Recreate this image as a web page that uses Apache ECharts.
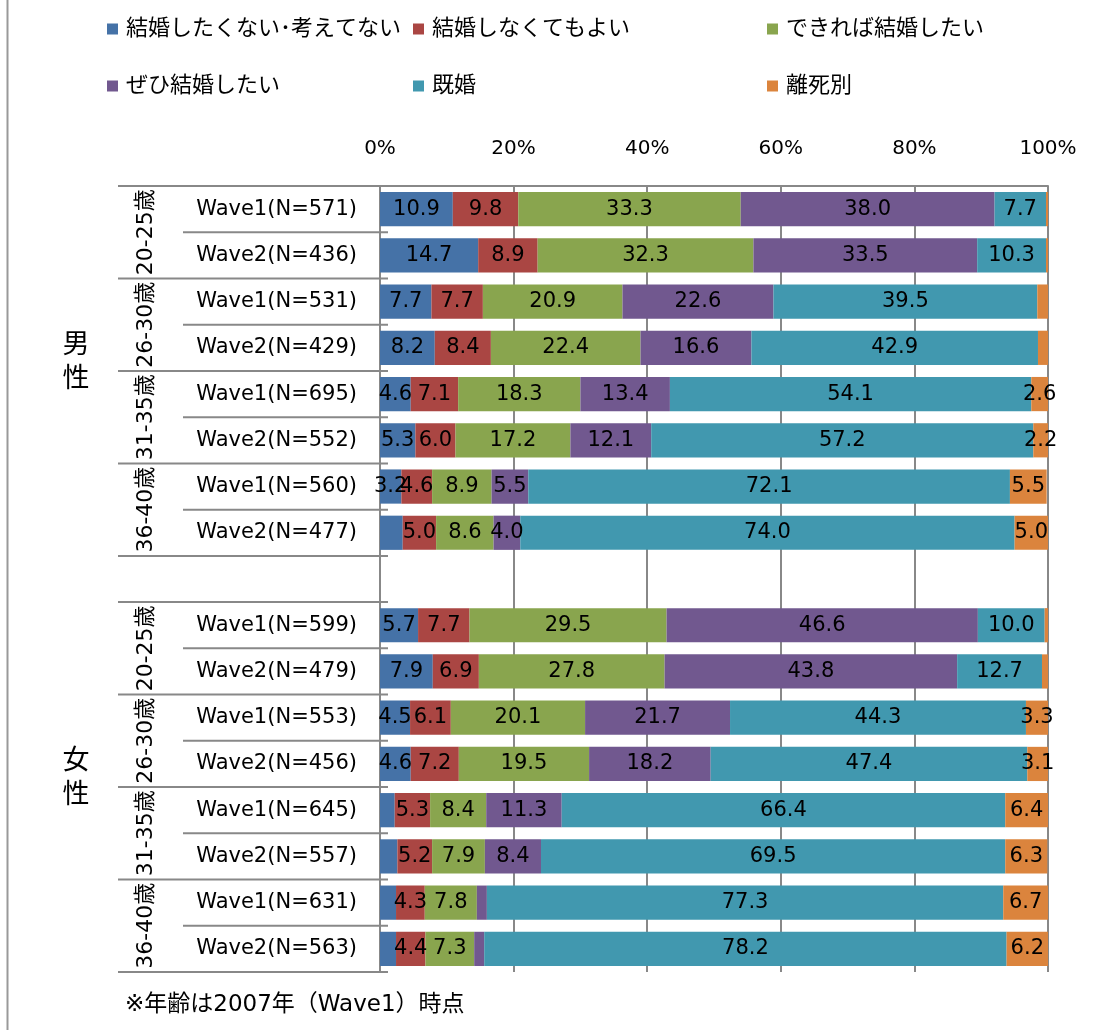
<!DOCTYPE html>
<html>
<head>
<meta charset="utf-8">
<script src="https://cdn.jsdelivr.net/npm/echarts@6/dist/echarts.min.js"></script>
<style>
  html, body { margin: 0; padding: 0; background: #fff; }
  #chart { width: 1109px; height: 1030px; }
</style>
</head>
<body>
<div id="chart"></div>
<script>
// rows top to bottom, '' is the spacer between 男性 and 女性
const rowLabels = [
  'Wave1(N=571)', 'Wave2(N=436)', 'Wave1(N=531)', 'Wave2(N=429)',
  'Wave1(N=695)', 'Wave2(N=552)', 'Wave1(N=560)', 'Wave2(N=477)',
  '',
  'Wave1(N=599)', 'Wave2(N=479)', 'Wave1(N=553)', 'Wave2(N=456)',
  'Wave1(N=645)', 'Wave2(N=557)', 'Wave1(N=631)', 'Wave2(N=563)'
];
const ageGroups = ['20-25歳', '26-30歳', '31-35歳', '36-40歳'];
const sexGroups = ['男性', '女性'];
const seriesNames = ['結婚したくない･考えてない', '結婚しなくてもよい', 'できれば結婚したい', 'ぜひ結婚したい', '既婚', '離死別'];
const colors = ['#4572A7', '#AA4643', '#89A54E', '#71588F', '#4198AF', '#DB843D'];

const notWant    = [10.9, 14.7, 7.7, 8.2, 4.6, 5.3, 3.2, 3.4, null, 5.7, 7.9, 4.5, 4.6, 2.2, 2.6, 2.4, 2.4];
const notNeed    = [9.8, 8.9, 7.7, 8.4, 7.1, 6.0, 4.6, 5.0, null, 7.7, 6.9, 6.1, 7.2, 5.3, 5.2, 4.3, 4.4];
const ifPossible = [33.3, 32.3, 20.9, 22.4, 18.3, 17.2, 8.9, 8.6, null, 29.5, 27.8, 20.1, 19.5, 8.4, 7.9, 7.8, 7.3];
const surely     = [38.0, 33.5, 22.6, 16.6, 13.4, 12.1, 5.5, 4.0, null, 46.6, 43.8, 21.7, 18.2, 11.3, 8.4, 1.5, 1.5];
const married    = [7.7, 10.3, 39.5, 42.9, 54.1, 57.2, 72.1, 74.0, null, 10.0, 12.7, 44.3, 47.4, 66.4, 69.5, 77.3, 78.2];
const divorced   = [0.3, 0.3, 1.6, 1.5, 2.6, 2.2, 5.5, 5.0, null, 0.5, 0.9, 3.3, 3.1, 6.4, 6.3, 6.7, 6.2];
const seriesValues = [notWant, notNeed, ifPossible, surely, married, divorced];

// data labels that the original leaves out: series index -> row indexes
const unlabeled = { 0: [7, 13, 14, 15, 16], 3: [15, 16], 5: [0, 1, 2, 3, 9, 10] };

const FONT = '"DejaVu Sans", "Noto Sans CJK JP", sans-serif';
const GRID = { left: 380, right: 61, top: 186, bottom: 58 };

const chart = echarts.init(document.getElementById('chart'), null, { renderer: 'canvas' });

const legendLeft = [102, 408, 762];
const legends = seriesNames.map((name, i) => ({
  data: [name],
  left: legendLeft[i % 3],
  top: i < 3 ? 13 : 70,
  icon: 'rect',
  itemWidth: 11,
  itemHeight: 11,
  textStyle: { fontFamily: FONT, fontSize: 22, color: '#000', padding: [0, 0, 0, 3] },
  selectedMode: false
}));

const series = seriesNames.map((name, s) => ({
  name,
  type: 'bar',
  stack: 'total',
  barCategoryGap: '26%',
  itemStyle: { color: colors[s] },
  label: {
    show: true,
    position: 'inside',
    color: '#000',
    fontFamily: FONT,
    fontSize: 21,
    formatter: (p) => p.value.toFixed(1)
  },
  data: seriesValues[s].map((v, r) => ({
    value: v,
    label: { show: v != null && !(unlabeled[s] || []).includes(r) }
  }))
}));

chart.setOption({
  animation: false,
  backgroundColor: '#fff',
  color: colors,
  legend: legends,
  grid: GRID,
  xAxis: {
    type: 'value',
    position: 'top',
    min: 0,
    max: 100,
    interval: 20,
    axisLine: { show: true, lineStyle: { color: '#888', width: 2 } },
    axisTick: { show: false },
    axisLabel: { formatter: '{value}%', color: '#000', fontFamily: FONT, fontSize: 20, margin: 27 },
    splitLine: { show: true, lineStyle: { color: '#888', width: 2 } }
  },
  yAxis: {
    type: 'category',
    inverse: true,
    data: rowLabels,
    axisLine: { show: true, lineStyle: { color: '#888', width: 2 } },
    axisTick: { show: false },
    axisLabel: { color: '#000', fontFamily: FONT, fontSize: 21, margin: 23 }
  },
  series
});

// multi-level category axis: divider lines and group labels
function drawGroups() {
  const c0 = chart.convertToPixel({ yAxisIndex: 0 }, 0);
  const c1 = chart.convertToPixel({ yAxisIndex: 0 }, 1);
  const band = c1 - c0;
  const axisX = chart.convertToPixel({ xAxisIndex: 0 }, 0);
  const rowAge = rowLabels.map((label, r) => (label ? Math.floor((r > 8 ? r - 1 : r) / 2) % 4 : -1));
  const rowSex = rowLabels.map((label, r) => (r < 8 ? 0 : r > 8 ? 1 : -1));
  const elements = [];
  const lineStyle = { stroke: '#888', lineWidth: 2 };

  for (let j = 0; j <= rowLabels.length; j++) {
    const y = c0 - band / 2 + j * band;
    const above = j > 0 ? rowAge[j - 1] + rowSex[j - 1] * 10 : null;
    const below = j < rowLabels.length ? rowAge[j] + rowSex[j] * 10 : null;
    const long = above !== below || rowAge[j] === -1 || rowAge[j - 1] === -1;
    elements.push({
      type: 'line',
      shape: { x1: long ? 118 : 183, y1: y, x2: axisX + 8, y2: y },
      style: lineStyle,
      z: 10
    });
  }

  // age labels, rotated and centred on their two rows
  rowLabels.forEach((label, r) => {
    if (!label || rowLabels[r - 1] && rowAge[r - 1] === rowAge[r]) return;
    const yc = c0 + (r + 0.5) * band;
    elements.push({
      type: 'text',
      x: 146,
      y: yc,
      rotation: Math.PI / 2,
      style: {
        text: ageGroups[rowAge[r]],
        fill: '#000',
        font: `22px ${FONT}`,
        align: 'center',
        verticalAlign: 'middle'
      },
      z: 10
    });
  });

  // sex labels, stacked vertically
  sexGroups.forEach((name, g) => {
    const rows = rowSex.map((s, r) => (s === g ? r : null)).filter((r) => r != null);
    const yc = c0 + ((rows[0] + rows[rows.length - 1]) / 2) * band - 8;
    elements.push({
      type: 'text',
      x: 76,
      y: yc,
      style: {
        text: name.split('').join('\n'),
        fill: '#000',
        font: `27px ${FONT}`,
        lineHeight: 34,
        align: 'center',
        verticalAlign: 'middle'
      },
      z: 10
    });
  });

  elements.push({
    type: 'text',
    x: 125,
    y: 1005,
    style: {
      text: '※年齢は2007年（Wave1）時点',
      fill: '#000',
      font: `23px ${FONT}`,
      verticalAlign: 'middle'
    }
  });

  // chart-area frame, only its left edge falls inside the picture
  elements.push({
    type: 'rect',
    shape: { x: 7.5, y: -10, width: 1200, height: 1100 },
    style: { fill: 'none', stroke: '#999', lineWidth: 2 },
    silent: true
  });

  chart.setOption({ graphic: elements });
}

drawGroups();
window.addEventListener('resize', () => chart.resize());
</script>
</body>
</html>
